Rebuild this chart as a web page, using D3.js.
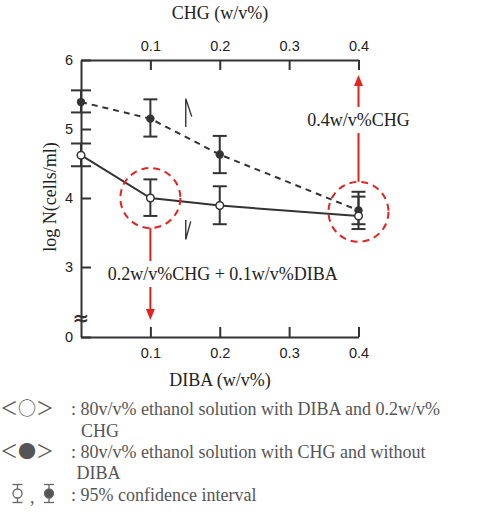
<!DOCTYPE html>
<html>
<head>
<meta charset="utf-8">
<script src="https://cdn.jsdelivr.net/npm/d3@7"></script>
<style>
  body { margin: 0; background: #fff; }
  svg { display: block; }
</style>
</head>
<body>
<div id="chart"></div>
<script>
// DIBA (bottom axis) and CHG (top axis) share the same x positions
var dibaLevels = [0, 0.1, 0.2, 0.4];
var xTicks = [0.1, 0.2, 0.3, 0.4];
var yTicks = [0, 3, 4, 5, 6];

// <open> : ethanol with DIBA and 0.2w/v% CHG
var openMean = [4.62, 4.00, 3.89, 3.74];
var openLow  = [4.46, 3.74, 3.62, 3.62];
var openHigh = [4.79, 4.27, 4.17, 4.02];

// <filled> : ethanol with CHG, without DIBA
var filledMean = [5.39, 5.15, 4.63, 3.82];
var filledLow  = [5.24, 4.89, 4.36, 3.55];
var filledHigh = [5.56, 5.43, 4.90, 4.09];

// red circled points and their notes
var highlightX = [0.1, 0.4];
var highlightY = [4.00, 3.80];
var highlightText = ["0.2w/v%CHG + 0.1w/v%DIBA", "0.4w/v%CHG"];

// little slash marks between 0.1 and 0.2
var slashX = [0.151, 0.151];
var slashTop = [5.44, 3.68];
var slashBottom = [5.03, 3.40];

var legendSymbols = ["＜○＞", "＜●＞"];
var legendText = [
  [": 80v/v% ethanol solution with DIBA and 0.2w/v%", "CHG"],
  [": 80v/v% ethanol solution with CHG and without", "DIBA"]
];
var ciText = ": 95% confidence interval";

var W = 500, H = 519;
var ink = "#333", red = "#e3231e", grey = "#555";
var serif = "'Liberation Serif', 'Times New Roman', serif";
var sans = "'Liberation Sans', Arial, sans-serif";

var svg = d3.select("#chart").append("svg")
  .attr("width", W).attr("height", H)
  .attr("viewBox", "0 0 " + W + " " + H);

var x = d3.scaleLinear().domain([0, 0.4]).range([81, 358.5]);
// axis is broken between 0 and 3
var y = d3.scaleLinear().domain([0, 3, 6]).range([337, 267, 60]);

function styleAxis(g) {
  g.selectAll("path.domain").attr("stroke", ink).attr("stroke-width", 2);
  g.selectAll(".tick line").attr("stroke", ink).attr("stroke-width", 2);
  g.selectAll(".tick text").attr("fill", "#222")
    .style("font-family", sans).style("font-size", "14.5px");
}

svg.append("g")
  .attr("transform", "translate(0," + y(6) + ")")
  .call(d3.axisTop(x).tickValues(xTicks).tickSizeInner(-10).tickSizeOuter(0)
    .tickPadding(9.5).tickFormat(d3.format(".1f")))
  .call(styleAxis);

svg.append("g")
  .attr("transform", "translate(0," + y(0) + ")")
  .call(d3.axisBottom(x).tickValues(xTicks).tickSizeInner(-10).tickSizeOuter(0)
    .tickPadding(11).tickFormat(d3.format(".1f")))
  .call(styleAxis);

svg.append("g")
  .attr("transform", "translate(" + x(0) + ",0)")
  .call(d3.axisLeft(y).tickValues(yTicks).tickSizeInner(-10).tickSizeOuter(0)
    .tickPadding(8).tickFormat(d3.format("d")))
  .call(styleAxis);

// break sign on the y axis
svg.append("text")
  .attr("x", x(0)).attr("y", y(0) - 12)
  .attr("text-anchor", "middle")
  .style("font-family", "'DejaVu Sans', sans-serif").style("font-size", "20px")
  .style("font-weight", "bold").attr("fill", ink)
  .text("≈");

// axis titles
svg.append("text")
  .attr("x", 220).attr("y", 19).attr("text-anchor", "middle")
  .style("font-family", serif).style("font-size", "18px").attr("fill", "#222")
  .text("CHG (w/v%)");
svg.append("text")
  .attr("x", 220).attr("y", 386).attr("text-anchor", "middle")
  .style("font-family", serif).style("font-size", "18px").attr("fill", "#222")
  .text("DIBA (w/v%)");
svg.append("text")
  .attr("transform", "translate(56," + 197 + ") rotate(-90)")
  .attr("text-anchor", "middle")
  .style("font-family", serif).style("font-size", "18px").attr("fill", "#222")
  .text("log N(cells/ml)");

// slash marks
slashX.forEach(function(sx, i) {
  var up = i === 0;
  var p = d3.path();
  p.moveTo(x(sx), y(slashBottom[i]));
  p.lineTo(x(sx), y(slashTop[i]));
  if (up) { p.moveTo(x(sx), y(slashTop[i])); p.lineTo(x(sx) + 6, y(slashTop[i]) + 18); }
  else { p.moveTo(x(sx), y(slashBottom[i])); p.lineTo(x(sx) + 5, y(slashBottom[i]) - 18); }
  svg.append("path").attr("d", p.toString())
    .attr("fill", "none").attr("stroke", ink).attr("stroke-width", 1.4);
});

var openData = dibaLevels.map(function(d, i) {
  return { x: d, m: openMean[i], lo: openLow[i], hi: openHigh[i] };
});
var filledData = dibaLevels.map(function(d, i) {
  return { x: d, m: filledMean[i], lo: filledLow[i], hi: filledHigh[i] };
});

var line = d3.line().x(function(d) { return x(d.x); }).y(function(d) { return y(d.m); });

svg.append("path").datum(filledData)
  .attr("d", line).attr("fill", "none")
  .attr("stroke", ink).attr("stroke-width", 2).attr("stroke-dasharray", "6,5");
svg.append("path").datum(openData)
  .attr("d", line).attr("fill", "none")
  .attr("stroke", ink).attr("stroke-width", 2);

function errorBars(data) {
  var g = svg.append("g").attr("stroke", ink).attr("stroke-width", 2);
  data.forEach(function(d) {
    var cx = x(d.x), cap = d.x === 0 ? 10 : 7;
    g.append("line").attr("x1", cx).attr("x2", cx).attr("y1", y(d.lo)).attr("y2", y(d.hi));
    [d.lo, d.hi].forEach(function(v) {
      g.append("line").attr("x1", cx - cap).attr("x2", cx + cap).attr("y1", y(v)).attr("y2", y(v));
    });
  });
}
errorBars(filledData);
errorBars(openData);

svg.selectAll(".fdot").data(filledData).enter().append("circle")
  .attr("cx", function(d) { return x(d.x); }).attr("cy", function(d) { return y(d.m); })
  .attr("r", 4.2).attr("fill", ink);
svg.selectAll(".odot").data(openData).enter().append("circle")
  .attr("cx", function(d) { return x(d.x); }).attr("cy", function(d) { return y(d.m); })
  .attr("r", 3.8).attr("fill", "#fff").attr("stroke", ink).attr("stroke-width", 1.5);

// red circles, arrows and notes
var R = 30;
highlightX.forEach(function(hx, i) {
  var cx = x(hx), cy = y(highlightY[i]);
  var goesUp = i === 1;
  svg.append("circle").attr("cx", cx).attr("cy", cy).attr("r", R)
    .attr("fill", "none").attr("stroke", red).attr("stroke-width", 2)
    .attr("stroke-dasharray", "7,5");

  var start = goesUp ? cy - R : cy + R;
  var tip = goesUp ? y(6) + 15 : y(0) - 17;
  var s = goesUp ? -1 : 1;
  svg.append("line").attr("x1", cx).attr("x2", cx).attr("y1", start).attr("y2", tip - s * 8)
    .attr("stroke", red).attr("stroke-width", 2);
  svg.append("path")
    .attr("d", "M" + cx + "," + tip + "L" + (cx - 4.5) + "," + (tip - s * 11) +
      "L" + (cx + 4.5) + "," + (tip - s * 11) + "Z")
    .attr("fill", red);

  var tx = goesUp ? cx : x(0.2) + 3;
  var ty = goesUp ? 126 : 280;
  var t = svg.append("text").attr("x", tx).attr("y", ty).attr("text-anchor", "middle")
    .style("font-family", serif).style("font-size", "18px").attr("fill", "#222")
    .text(highlightText[i]);
  var bb = t.node().getBBox();
  svg.insert("rect", function() { return t.node(); })
    .attr("x", bb.x - 2).attr("y", bb.y - 3).attr("width", bb.width + 4).attr("height", bb.height + 6)
    .attr("fill", "#fff");
});

// legend
var rowY = [415, 457.5];
var wrapX = [81, 76.5];
legendSymbols.forEach(function(sym, i) {
  svg.append("text").attr("x", 0).attr("y", rowY[i])
    .style("font-family", "'Noto Sans CJK JP', sans-serif").style("font-size", "18px")
    .attr("fill", grey).text(sym);
  svg.append("text").attr("x", 71).attr("y", rowY[i])
    .style("font-family", serif).style("font-size", "18px").attr("fill", grey)
    .text(legendText[i][0]);
  svg.append("text").attr("x", wrapX[i]).attr("y", rowY[i] + 21.5)
    .style("font-family", serif).style("font-size", "18px").attr("fill", grey)
    .text(legendText[i][1]);
});

// confidence interval icons
var ciY = 500.5;
[17.5, 49].forEach(function(cx, i) {
  var g = svg.append("g").attr("stroke", "#666").attr("stroke-width", 1.3);
  g.append("line").attr("x1", cx).attr("x2", cx).attr("y1", ciY - 16).attr("y2", ciY + 2);
  g.append("line").attr("x1", cx - 5).attr("x2", cx + 5).attr("y1", ciY - 16).attr("y2", ciY - 16);
  g.append("line").attr("x1", cx - 5).attr("x2", cx + 5).attr("y1", ciY + 2).attr("y2", ciY + 2);
  g.append("circle").attr("cx", cx).attr("cy", ciY - 7).attr("r", 4.5)
    .attr("fill", i === 0 ? "#fff" : "#555");
});
svg.append("text").attr("x", 30).attr("y", ciY + 2)
  .style("font-family", serif).style("font-size", "18px").attr("fill", grey).text(",");
svg.append("text").attr("x", 71).attr("y", ciY)
  .style("font-family", serif).style("font-size", "18px").attr("fill", grey).text(ciText);
</script>
</body>
</html>
